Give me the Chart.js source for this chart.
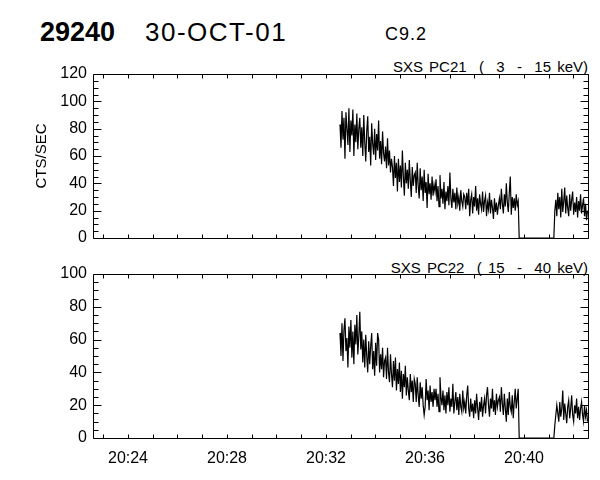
<!DOCTYPE html>
<html><head><meta charset="utf-8">
<script src="https://cdn.jsdelivr.net/npm/chart.js@4.4.1/dist/chart.umd.min.js"></script>
<style>
body{margin:0;background:#fff;width:600px;height:480px;overflow:hidden;position:relative;font-family:"Liberation Sans",Arial,sans-serif;}
.t{position:absolute;color:#000;white-space:pre;line-height:1;}
.wrap{position:absolute;left:0;top:0;width:600px;height:480px;}
</style></head><body>
<div class="t" style="left:40px;top:19px;font-size:27px;font-weight:bold">29240</div>
<div class="t" style="left:145px;top:19px;font-size:26px;letter-spacing:1.5px">30-OCT-01</div>
<div class="t" style="left:385px;top:25px;font-size:18px;letter-spacing:1px">C9.2</div>
<div class="t" style="right:12px;top:59px;font-size:15px;word-spacing:2px">SXS PC21  (  3  -  15 keV)</div>
<div class="t" style="right:12px;top:260px;font-size:15px;word-spacing:2px">SXS PC22  ( 15  -  40 keV)</div>
<div class="wrap"><canvas id="c1" width="600" height="480"></canvas></div>
<div class="wrap"><canvas id="c2" width="600" height="480"></canvas></div>
<script>
// time axis: minutes after 20:00
const xLabelMinutes = [24, 28, 32, 36, 40];
const xTickLabels = ['20:24', '20:28', '20:32', '20:36', '20:40'];
const xMin = 22.586, xMax = 42.586;
const sampleStart = 32.566;   // first sample time (min after 20:00)
const sampleStep = 0.04;      // minutes between samples

// SXS PC21 (3-15 keV) counts/sec
const pc21Flare = [
 83, 66, 93, 72, 88, 58, 92, 80, 68, 95, 63, 86, 75, 94, 60, 83, 70, 91, 65, 80, 88,
 66, 81, 60, 90, 70, 56, 78, 89, 63, 74, 53, 84, 69, 61, 80, 57, 76, 64, 86, 58, 71, 54, 78, 62, 56,
 67, 51, 73, 53, 64, 48, 58,
 52, 38, 60, 44, 55, 34, 58, 41, 53, 37, 64, 45, 31, 55, 40, 50, 36, 57, 42, 30, 52, 38, 46,
 48, 33, 55, 38, 29, 51, 35, 45, 27, 50, 33, 41, 22, 47, 32, 40, 28, 45, 31, 39,
 34, 43, 27, 38, 23, 46, 29, 36, 25, 41, 21, 34, 27, 38, 24, 48, 29, 22, 36, 26, 33, 21, 37, 25, 30, 20, 35, 27, 23, 32,
 30, 21, 33, 24, 36, 16, 28, 32, 18, 30, 23, 38, 20, 29, 17, 32, 25, 21, 34, 19, 27, 31, 16, 26, 21, 33, 18, 28, 22, 14, 29, 19, 26, 17, 24,
 29, 21, 36, 25, 18, 32, 23, 40, 26, 19, 33, 45, 17, 30, 22, 29, 20, 32, 24, 27
];
const pc21Gap = [0,0,0,0,0,0,0,0,0,0,0,0,0,0,0,0,0,0,0,0,0,0,0,0,0,0,0,0,0,0,0,0,0,0,0,0];
const pc21Late = [
 20, 28, 16, 33, 21, 30, 15, 36, 19, 27, 37, 18, 31, 22, 16, 32, 20, 28, 34, 17,
 26, 19, 30, 15, 27, 20, 32, 18, 24, 29, 16, 25, 13, 20
];

// SXS PC22 (15-40 keV) counts/sec
const pc22Flare = [
 64, 50, 70, 47, 66, 73, 53, 61, 43, 68, 55, 72, 49, 65, 45, 69, 57, 75, 51, 62, 77,
 54, 65, 46, 60, 43, 63, 50, 40, 59, 45, 56, 64, 42, 53, 38, 58, 44, 64, 60, 40, 51, 42, 55, 37, 47,
 49, 36, 55, 40, 34, 51, 39, 31, 47, 35, 49, 29, 42, 33, 46, 28, 41, 24, 39, 31, 44, 26, 37, 29, 23, 39, 28, 35, 22, 36,
 33, 22, 37, 26, 19, 34, 24, 31, 20, 14, 19, 36, 23, 29, 17, 32, 22, 28, 19, 30,
 23, 30, 19, 27, 16, 37, 25, 20, 29, 17, 26, 15, 28, 20, 31, 16, 24, 19, 33, 15, 22, 28, 17, 25, 14, 27, 19, 16, 29, 18,
 22, 15, 26, 32, 18, 13, 24, 16, 21, 12, 23, 15, 27, 18, 11, 22, 16, 25, 13, 20, 24, 15, 26, 31, 20, 13, 24, 18, 30, 16, 23, 14, 27, 19, 23,
 25, 16, 31, 21, 14, 27, 18, 10, 24, 14, 28, 19, 16, 26, 12, 22, 30, 18, 24, 30
];
const pc22Gap = [0,0,0,0,0,0,0,0,0,0,0,0,0,0,0,0,0,0,0,0,0,0,0,0,0,0,0,0,0,0,0,0,0,0,0,0];
const pc22Late = [
 8, 14, 20, 15, 10, 22, 13, 18, 29, 11, 21, 15, 9, 19, 23, 12, 18, 26, 14, 10,
 20, 15, 24, 12, 19, 11, 18, 22, 14, 10, 20, 13, 17, 10
];

const yTicksTop = [0, 20, 40, 60, 80, 100, 120];
const yTicksBot = [0, 20, 40, 60, 80, 100];

function toPoints(values) {
  return values.map((v, i) => ({ x: sampleStart + i * sampleStep, y: v }));
}

Chart.defaults.font.family = "'Liberation Sans', Arial, sans-serif";
Chart.defaults.color = '#000';

const frame = {
  id: 'frame',
  afterDraw(chart, args, opts) {
    const { ctx, chartArea: a, scales: { x, y } } = chart;
    ctx.save();
    ctx.strokeStyle = '#000';
    ctx.lineWidth = 1;
    const L = Math.round(a.left) + 0.5, R = Math.round(a.right) + 0.5;
    const T = Math.round(a.top) + 0.5, B = Math.round(a.bottom) + 0.5;
    ctx.beginPath();
    ctx.rect(L, T, R - L, B - T);
    for (let m = Math.ceil(x.min); m <= x.max; m++) {
      const px = Math.round(x.getPixelForValue(m)) + 0.5;
      ctx.moveTo(px, B); ctx.lineTo(px, B - 4);
      ctx.moveTo(px, T); ctx.lineTo(px, T + 4);
    }
    for (let v = y.min; v <= y.max; v += 5) {
      const py = Math.round(y.getPixelForValue(v)) + 0.5;
      const len = (v % 20 === 0) ? 8 : 5;
      ctx.moveTo(L, py); ctx.lineTo(L + len, py);
      ctx.moveTo(R, py); ctx.lineTo(R - len, py);
    }
    ctx.stroke();
    ctx.restore();
  }
};

function makeChart(id, values, yMax, yTicks, padTop, padBottom, showX, yTitle) {
  return new Chart(document.getElementById(id), {
    type: 'line',
    data: { datasets: [{ data: toPoints(values), borderColor: '#000', borderWidth: 1.2, pointRadius: 0, tension: 0, fill: false }] },
    options: {
      responsive: false, animation: false,
      layout: { padding: { top: padTop, left: 0, right: 12, bottom: padBottom } },
      plugins: { legend: { display: false }, tooltip: { enabled: false } },
      scales: {
        x: {
          type: 'linear', min: xMin, max: xMax, display: showX,
          grid: { display: false, drawTicks: false }, border: { display: false },
          afterBuildTicks: s => { s.ticks = xLabelMinutes.map(v => ({ value: v })); },
          afterFit: s => { s.height = showX ? 42 : 0; },
          ticks: { padding: 11, maxRotation: 0, autoSkip: false, font: { size: 16 },
                   callback: (v) => xTickLabels[xLabelMinutes.indexOf(v)] }
        },
        y: {
          min: 0, max: yMax,
          grid: { display: false, drawTicks: false }, border: { display: false },
          afterBuildTicks: s => { s.ticks = yTicks.map(v => ({ value: v })); },
          afterFit: s => { s.width = 93; },
          ticks: { padding: 6, autoSkip: false, font: { size: 16 } },
          title: { display: !!yTitle, text: yTitle || '', font: { size: 15 }, padding: { top: 33, bottom: 0 } }
        }
      }
    },
    plugins: [frame]
  });
}

makeChart('c1', pc21Flare.concat(pc21Gap, pc21Late), 120, yTicksTop, 74, 242, false, 'CTS/SEC');
makeChart('c2', pc22Flare.concat(pc22Gap, pc22Late), 100, yTicksBot, 274, 0, true, null);
</script>
</body></html>
